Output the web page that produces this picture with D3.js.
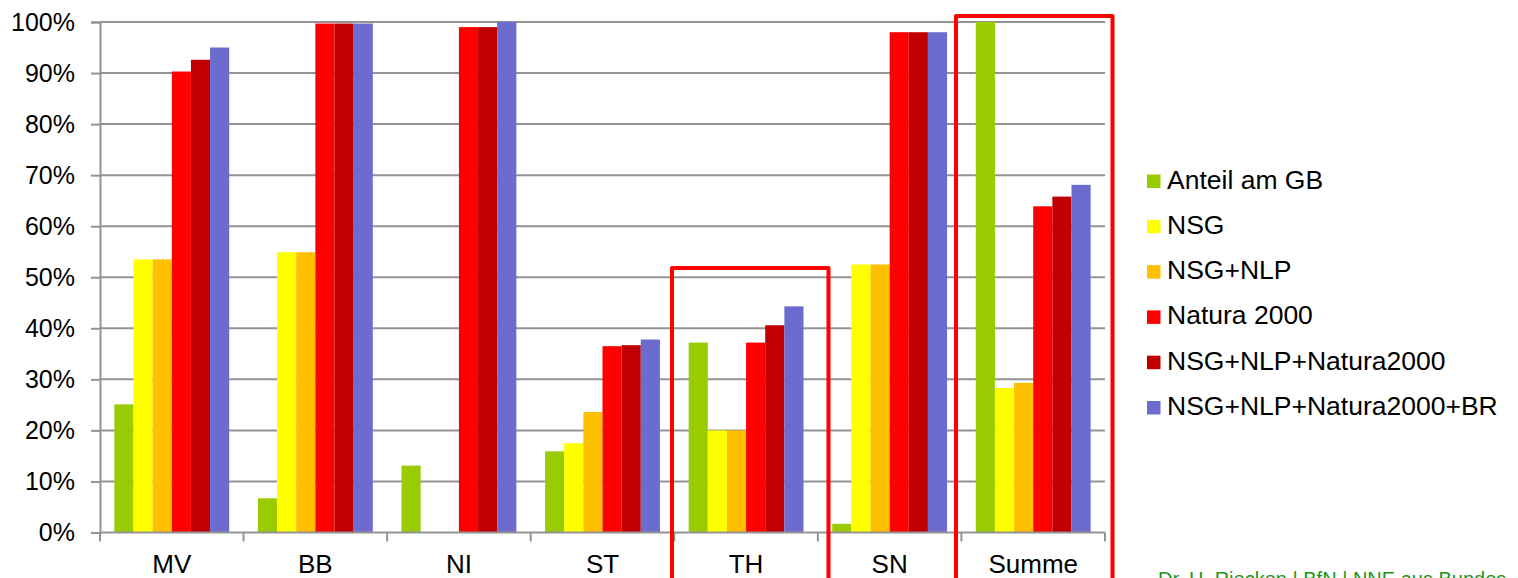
<!DOCTYPE html>
<html>
<head>
<meta charset="utf-8">
<script src="https://cdn.jsdelivr.net/npm/d3@7"></script>
<style>
  html, body { margin: 0; padding: 0; background: #fff; }
  svg { display: block; font-family: "Liberation Sans", Arial, sans-serif; }
</style>
</head>
<body>
<svg id="chart" width="1518" height="578"></svg>
<script>
// Bundesländer plus total
const categories = ["MV", "BB", "NI", "ST", "TH", "SN", "Summe"];

// Series names (legend order)
const seriesNames = [
  "Anteil am GB",
  "NSG",
  "NSG+NLP",
  "Natura 2000",
  "NSG+NLP+Natura2000",
  "NSG+NLP+Natura2000+BR"
];

// Shares per category, one array per series (fractions of 1)
const anteilGB      = [0.251, 0.067, 0.131, 0.159, 0.372, 0.017, 1.000];
const nsg           = [0.535, 0.549, 0.000, 0.175, 0.200, 0.525, 0.283];
const nsgNlp        = [0.535, 0.549, 0.000, 0.236, 0.200, 0.525, 0.293];
const natura2000    = [0.903, 0.997, 0.990, 0.365, 0.372, 0.980, 0.639];
const nsgNlpNatura  = [0.926, 0.997, 0.990, 0.367, 0.406, 0.980, 0.658];
const nsgNlpNatBR   = [0.950, 0.997, 1.000, 0.378, 0.443, 0.980, 0.681];

const seriesValues = [anteilGB, nsg, nsgNlp, natura2000, nsgNlpNatura, nsgNlpNatBR];
const seriesColors = ["#99cc00", "#ffff00", "#ffc000", "#ff0000", "#c00000", "#6c6ccf"];

// Y tick values
const yTicks = [0, 0.1, 0.2, 0.3, 0.4, 0.5, 0.6, 0.7, 0.8, 0.9, 1.0];

const svg = d3.select("#chart");

const plotLeft = 100, plotRight = 1105, plotTop = 22, plotBottom = 532.5;

const x = d3.scaleBand().domain(categories).range([plotLeft, plotRight]).padding(0);
const xInner = d3.scaleBand().domain(seriesNames).range([0, x.bandwidth()])
  .paddingInner(0).paddingOuter(0.75);
const y = d3.scaleLinear().domain([0, 1]).range([plotBottom, plotTop]);

// Gridlines
svg.append("g")
  .selectAll("line")
  .data(yTicks.filter(d => d > 0))
  .join("line")
  .attr("x1", plotLeft).attr("x2", plotRight)
  .attr("y1", d => y(d)).attr("y2", d => y(d))
  .attr("stroke", "#939393")
  .attr("stroke-width", 2);

// Bars
const rows = [];
categories.forEach((c, i) => {
  seriesNames.forEach((s, j) => {
    rows.push({ cat: c, series: s, value: seriesValues[j][i], color: seriesColors[j] });
  });
});

svg.append("g")
  .selectAll("rect")
  .data(rows.filter(d => d.value > 0))
  .join("rect")
  .attr("x", d => x(d.cat) + xInner(d.series))
  .attr("width", xInner.bandwidth())
  .attr("y", d => y(d.value))
  .attr("height", d => y(0) - y(d.value))
  .attr("fill", d => d.color);

// Y axis
const yAxis = d3.axisLeft(y)
  .tickValues(yTicks)
  .tickFormat(d3.format(".0%"))
  .tickSize(9)
  .tickPadding(16);

const gy = svg.append("g")
  .attr("transform", `translate(${plotLeft},0)`)
  .call(yAxis);
gy.select(".domain").attr("stroke", "#939393").attr("stroke-width", 2);
gy.selectAll(".tick line").attr("stroke", "#939393").attr("stroke-width", 2);
gy.selectAll(".tick text")
  .attr("font-size", 25)
  .attr("font-family", "Liberation Sans, Arial, sans-serif")
  .attr("fill", "#000");

// X axis: baseline, boundary ticks, centred labels
const gx = svg.append("g");
gx.append("line")
  .attr("x1", plotLeft).attr("x2", plotRight)
  .attr("y1", plotBottom).attr("y2", plotBottom)
  .attr("stroke", "#939393").attr("stroke-width", 2);

const boundaries = categories.map(c => x(c)).concat([x(categories[categories.length - 1]) + x.bandwidth()]);
gx.selectAll("line.bt")
  .data(boundaries)
  .join("line")
  .attr("class", "bt")
  .attr("x1", d => d).attr("x2", d => d)
  .attr("y1", plotBottom).attr("y2", plotBottom + 9)
  .attr("stroke", "#939393").attr("stroke-width", 2);

gx.selectAll("text")
  .data(categories)
  .join("text")
  .attr("x", d => x(d) + x.bandwidth() / 2)
  .attr("y", 573)
  .attr("text-anchor", "middle")
  .attr("font-size", 26)
  .attr("fill", "#000")
  .text(d => d);

// Frames around highlighted categories
const frames = [
  { cat: "TH", top: 268, left: 672, right: 828.5 },
  { cat: "Summe", top: 16, left: 956, right: 1112.5 }
];
svg.append("g")
  .selectAll("path")
  .data(frames)
  .join("path")
  .attr("d", d => `M${d.left},600 V${d.top} H${d.right} V600`)
  .attr("fill", "none")
  .attr("stroke", "#ff0000")
  .attr("stroke-width", 4)
  .attr("stroke-linejoin", "round");

// Legend
const legend = svg.append("g").attr("transform", "translate(1147,174.5)");
const li = legend.selectAll("g")
  .data(seriesNames)
  .join("g")
  .attr("transform", (d, i) => `translate(0,${i * 45.3})`);
li.append("rect")
  .attr("width", 13.5).attr("height", 13.5)
  .attr("fill", (d, i) => seriesColors[i]);
li.append("text")
  .attr("x", 20)
  .attr("y", 14)
  .attr("font-size", 26.5)
  .attr("fill", "#000")
  .text(d => d);

// Footer credit
svg.append("text")
  .attr("x", 1158)
  .attr("y", 586)
  .attr("font-size", 20)
  .attr("fill", "#1a961a")
  .text("Dr. H. Riecken | BfN | NNE aus Bundes");
</script>
</body>
</html>
